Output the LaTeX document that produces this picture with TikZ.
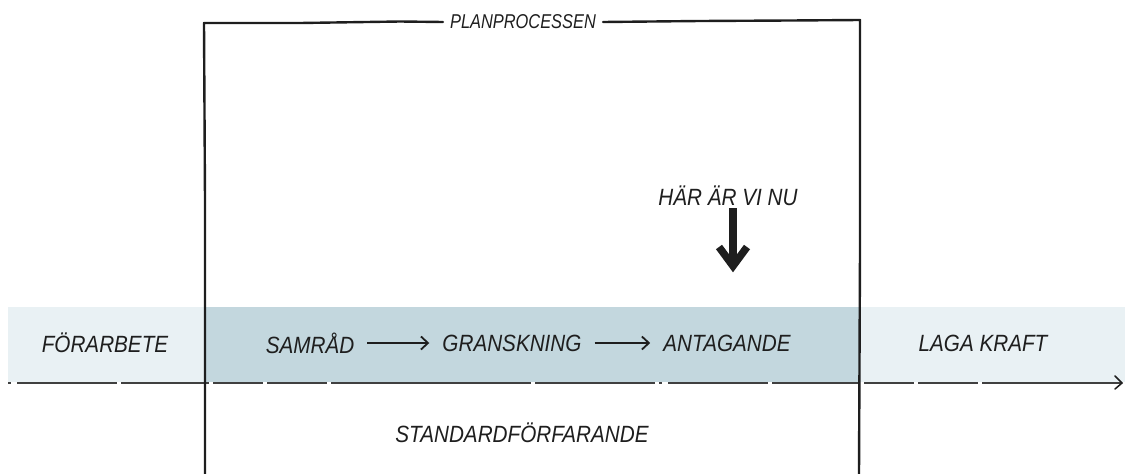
\documentclass[tikz,border=0pt]{standalone}
\usepackage{fontspec}
\setmainfont[FakeStretch=0.88]{Liberation Sans}
\newfontfamily\titlefont[FakeStretch=0.82]{Liberation Sans}
\usetikzlibrary{arrows.meta}
\definecolor{bandlight}{HTML}{E9F1F4}
\definecolor{banddark}{HTML}{C3D7DE}
\definecolor{ink}{HTML}{1E1E1E}
\tikzset{
  lbl/.style={font=\itshape\fontsize{23.5}{28}\selectfont, text=ink, inner sep=2pt},
  smalllbl/.style={font=\titlefont\itshape\fontsize{20}{24}\selectfont, text=ink, inner sep=7pt},
  frame/.style={draw=ink, line width=2.4pt, line cap=round, line join=round},
  flow/.style={draw=ink, line width=1.8pt, -{Straight Barb[length=7pt,width=13pt,line width=1.8pt]}, shorten <=11pt, shorten >=11pt},
  timeline/.style={draw=ink!85, line width=2.6pt, dash pattern=on 3pt off 6pt on 100pt off 4pt on 88pt off 4pt on 50pt off 4pt on 60pt off 4pt on 200pt off 4pt on 120pt off 4pt},
}
\begin{document}
\begin{tikzpicture}[x=1pt, y=-1pt]
  \useasboundingbox (0,0) rectangle (1125,474);

  % background band of the timeline
  \fill[bandlight] (8,307) rectangle (1125,382);
  \fill[banddark] (204,307) rectangle (860,382);

  % stage labels
  \node[lbl] (forarbete) at (105,343) {FÖRARBETE};
  \node[lbl] (samrad) at (310,343) {SAMRÅD};
  \node[lbl] (granskning) at (512,343) {GRANSKNING};
  \node[lbl] (antagande) at (727,343) {ANTAGANDE};
  \node[lbl] (lagakraft) at (983,343) {LAGA KRAFT};
  \node[lbl] (standard) at (522,433) {STANDARDFÖRFARANDE};

  \draw[flow] (samrad) -- (granskning);
  \draw[flow] (granskning) -- (antagande);

  % timeline axis
  \coordinate (tlstart) at (8,383);
  \coordinate (tlend) at (1122,383);
  \draw[timeline] (tlstart) -- (tlend);
  \draw[ink, line width=1.5pt, line cap=round, line join=miter]
    ([shift={(-7,-7)}]tlend) -- (tlend) -- ([shift={(-7,6)}]tlend);

  % planning-process frame
  \node[smalllbl] (plan) at (523,22) {PLANPROCESSEN};
  \coordinate (tl) at (204,23);
  \coordinate (tr) at (860,20);
  \coordinate (bl) at (205,474);
  \coordinate (br) at (859,474);
  \draw[frame] (plan.west |- 0,22) -- (400,21.5) -- (300,23) -- (tl) -- (205,200) -- (bl);
  \draw[frame] (plan.east |- 0,22) -- (700,21) -- (790,20.5) -- (tr) -- (860,250) -- (br);

  % current position marker
  \node[lbl] (here) at (728,196) {HÄR ÄR VI NU};
  \coordinate (tip) at (733,262);
  \draw[ink, line width=7.5pt] (733,208) -- ([yshift=-4pt]tip);
  \draw[ink, line width=7.5pt, line join=miter, miter limit=10]
    ([shift={(-14,-15)}]tip) -- ([yshift=-4pt]tip) -- ([shift={(14,-15)}]tip);
\end{tikzpicture}
\end{document}
